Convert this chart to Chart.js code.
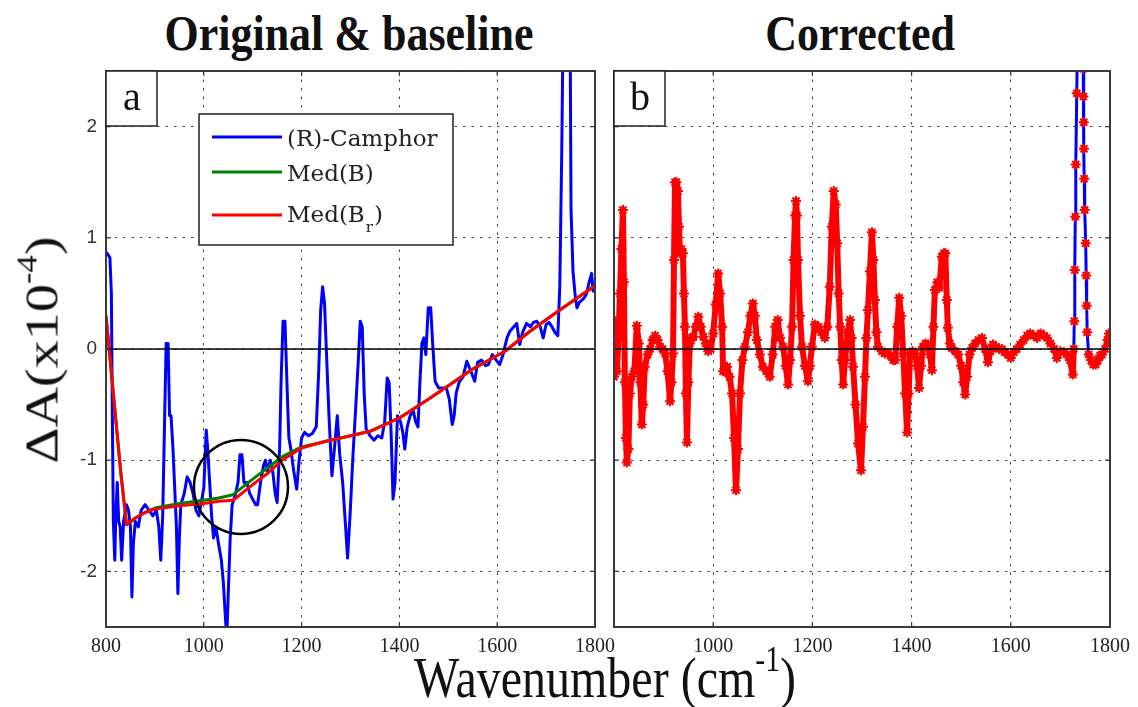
<!DOCTYPE html>
<html>
<head>
<meta charset="utf-8">
<script src="https://cdn.jsdelivr.net/npm/chart.js@4.4.1/dist/chart.umd.min.js"></script>
<style>
body { margin: 0; width: 1138px; height: 707px; background: #fff; position: relative; overflow: hidden; }
canvas { position: absolute; }
#left { left: 50px; top: 61px; }
#right { left: 604px; top: 61px; }
.title { position: absolute; top: 8px; font: bold 44px 'Liberation Serif', serif; color: #111;
         white-space: nowrap; transform: translateX(-50%) scaleY(1.15); }
#xtitle { position: absolute; left: 605px; top: 650px; font: 48px 'Liberation Serif', serif; color: #111;
          white-space: nowrap; transform: translateX(-50%) scaleY(1.18); }
#ytitle { position: absolute; left: 42px; top: 350px; font: 46px 'Liberation Serif', serif; color: #111;
          white-space: nowrap; transform: translate(-50%, -50%) rotate(-90deg) scaleX(1.22); }
sup { font-size: 62%; vertical-align: 0.75em; line-height: 0; }
</style>
</head>
<body>
<div class="title" style="left:349px">Original &amp; baseline</div>
<div class="title" style="left:860px">Corrected</div>
<canvas id="left" width="570" height="606"></canvas>
<canvas id="right" width="531" height="606"></canvas>
<div id="xtitle">Wavenumber (cm<sup>-1</sup>)</div>
<div id="ytitle">&Delta;A(x10<sup>-4</sup>)</div>
<script>
// axis ticks
const xTicks = [800, 1000, 1200, 1400, 1600, 1800];
const yTicks = [-2, -1, 0, 1, 2];

// (R)-Camphor raw spectrum (panel a)
const rawWave = [
  800, 804, 808, 811, 813, 815, 818, 820, 823, 826,
  829, 832, 836, 842, 846, 850, 853, 856, 860, 866,
  872, 880, 888, 896, 903, 908, 912, 916, 920, 923,
  927, 930, 933, 937, 940, 944, 947, 950, 953, 960,
  966, 972, 978, 984, 990, 996, 1000, 1005, 1008, 1012,
  1016, 1020, 1025, 1030, 1036, 1040, 1044, 1047, 1050, 1054,
  1058, 1064, 1070, 1074, 1078, 1082, 1088, 1094, 1100, 1106,
  1110, 1116, 1122, 1126, 1130, 1136, 1141, 1146, 1150, 1155,
  1158, 1162, 1166, 1170, 1174, 1178, 1184, 1190, 1195, 1200,
  1206, 1214, 1222, 1230, 1235, 1239, 1243, 1247, 1251, 1256,
  1262, 1267, 1273, 1278, 1284, 1290, 1294, 1299, 1305, 1311,
  1316, 1320, 1324, 1328, 1332, 1340, 1348, 1356, 1364, 1370,
  1375, 1379, 1383, 1387, 1391, 1396, 1402, 1407, 1411, 1416,
  1422, 1428, 1433, 1438, 1442, 1446, 1450, 1454, 1459, 1464,
  1468, 1473, 1480, 1488, 1496, 1502, 1508, 1512, 1516, 1522,
  1530, 1538, 1546, 1554, 1560, 1568, 1576, 1582, 1590, 1598,
  1605, 1612, 1620, 1626, 1634, 1640, 1646, 1652, 1660, 1668,
  1674, 1681, 1688, 1694, 1700, 1706, 1712, 1718, 1724, 1728,
  1732, 1735, 1742, 1749, 1751, 1755, 1759, 1763, 1768, 1773,
  1778, 1783, 1788, 1793, 1796, 1800
];
const rawSignal = [
  0.87, 0.85, 0.82, 0.5, -0.6, -1.55, -1.9, -1.5, -1.2, -1.55,
  -1.6, -1.9, -1.55, -1.4, -1.45, -1.6, -2.23, -1.75, -1.55, -1.6,
  -1.45, -1.4, -1.45, -1.5, -1.45, -1.6, -1.9, -1.5, -0.6, 0.05,
  0.05, -0.6, -0.6, -0.9, -1.2, -1.6, -2.2, -1.7, -1.4, -1.3,
  -1.15, -1.2, -1.3, -1.45, -1.5, -1.35, -1.25, -0.73, -0.9, -1.2,
  -1.5, -1.7, -1.6, -1.75, -1.9, -2.1, -2.4, -2.6, -2.2, -1.7,
  -1.4, -1.32, -1.2, -0.95, -0.95, -1.2, -1.2, -1.3, -1.35, -1.4,
  -1.4, -1.2, -1.05, -1.0, -1.1, -1.0, -1.1, -1.3, -1.38, -0.9,
  -0.3, 0.25, 0.25, -0.3, -0.8, -0.9, -1.1, -1.26, -1.0, -0.8,
  -0.75, -0.78, -0.76, -0.7, -0.2, 0.35, 0.56, 0.4, -0.05, -0.6,
  -1.14, -0.9, -0.6, -0.95, -1.2, -1.6, -1.88, -1.5, -0.96, -0.5,
  -0.1, 0.25, 0.2, -0.4, -0.72, -0.78, -0.82, -0.78, -0.8, -0.65,
  -0.26, -0.3, -0.75, -1.35, -1.2, -0.6, -0.65, -0.75, -0.9, -0.7,
  -0.6, -0.55, -0.65, -0.7, -0.3, 0.05, 0.1, -0.05, 0.37, 0.37,
  0.05, -0.29, -0.35, -0.35, -0.35, -0.45, -0.68, -0.6, -0.4, -0.3,
  -0.25, -0.11, -0.2, -0.29, -0.12, -0.1, -0.15, -0.14, -0.05, -0.1,
  -0.14, -0.05, 0.1, 0.16, 0.2, 0.23, 0.04, 0.15, 0.23, 0.2,
  0.24, 0.25, 0.2, 0.1, 0.22, 0.24, 0.2, 0.15, 0.12, 0.56,
  1.77, 3.0, 3.5, 3.0, 1.25, 0.7, 0.5, 0.37, 0.42, 0.44,
  0.46, 0.5, 0.6, 0.68, 0.52, 0.55
];

// baselines (panel a)
const baseWave = [800, 815, 830, 842, 860, 880, 900, 950, 1000, 1030, 1060, 1100, 1130,
                  1160, 1200, 1250, 1300, 1340, 1400, 1460, 1500, 1550, 1616, 1667, 1728, 1800];
const medB  = [0.3, -0.4, -1.1, -1.58, -1.52, -1.47, -1.43, -1.39, -1.36, -1.34, -1.31, -1.17, -1.07,
               -0.97, -0.88, -0.83, -0.78, -0.74, -0.62, -0.45, -0.33, -0.18, -0.02, 0.16, 0.35, 0.57];
const medBr = [0.3, -0.4, -1.1, -1.58, -1.52, -1.47, -1.44, -1.41, -1.39, -1.37, -1.36, -1.22, -1.12,
               -1.0, -0.89, -0.83, -0.78, -0.74, -0.62, -0.45, -0.33, -0.18, -0.02, 0.16, 0.35, 0.57];

// corrected spectrum (panel b)
const corrWave = [
  800, 803, 806, 809, 812, 815, 818, 820, 822, 824,
  826, 829, 832, 836, 841, 846, 850, 853, 856, 859,
  862, 868, 873, 878, 883, 888, 893, 898, 903, 908,
  913, 916, 919, 921, 923, 926, 929, 931, 933, 936,
  939, 941, 943, 945, 947, 950, 953, 957, 960, 965,
  970, 975, 980, 985, 990, 995, 1000, 1005, 1010, 1014,
  1018, 1020, 1024, 1028, 1033, 1038, 1042, 1046, 1050, 1054,
  1059, 1064, 1070, 1075, 1080, 1084, 1088, 1094, 1100, 1107,
  1114, 1120, 1125, 1130, 1135, 1141, 1146, 1151, 1155, 1159,
  1162, 1165, 1167, 1169, 1171, 1175, 1179, 1185, 1191, 1195,
  1199, 1205, 1212, 1218, 1225, 1230, 1235, 1239, 1243, 1247,
  1250, 1253, 1256, 1259, 1262, 1266, 1271, 1276, 1279, 1282,
  1287, 1292, 1298, 1302, 1306, 1309, 1312, 1316, 1320, 1323,
  1326, 1329, 1332, 1340, 1346, 1352, 1358, 1363, 1367, 1371,
  1375, 1379, 1383, 1387, 1391, 1394, 1397, 1402, 1407, 1411,
  1415, 1419, 1423, 1428, 1433, 1437, 1441, 1444, 1447, 1452,
  1456, 1461, 1465, 1468, 1471, 1473, 1477, 1481, 1488, 1494,
  1500, 1504, 1508, 1512, 1517, 1522, 1528, 1535, 1542, 1548,
  1554, 1559, 1564, 1570, 1576, 1582, 1588, 1594, 1600, 1606,
  1612, 1619, 1626, 1633, 1639, 1646, 1653, 1660, 1667, 1673,
  1680, 1687, 1693, 1700, 1707, 1713, 1719, 1725, 1727, 1728,
  1729, 1730, 1731, 1733, 1735, 1742, 1745, 1746, 1746.5, 1747,
  1747.5, 1748, 1749, 1751, 1752, 1753, 1754, 1757, 1762, 1766,
  1771, 1776, 1780, 1784, 1790, 1795, 1798, 1800
];
const corrSignal = [
  -0.25, 0.25, -0.2, 0.1, 0.5, 0.9, 1.25, 0.6, -0.3, -0.8,
  -1.02, -0.9, -0.4, -0.25, -0.2, 0.21, 0.05, -0.3, -0.68, -0.5,
  -0.16, -0.05, 0.0, 0.08, 0.12, 0.08, 0.02, 0.0, -0.04, -0.2,
  -0.47, -0.3, -0.04, 0.8, 1.5, 1.5, 1.42, 1.1, 0.86, 0.9,
  0.86, 0.5, 0.2, -0.4, -0.84, -0.3, 0.05, 0.1, 0.11, 0.2,
  0.29, 0.2, 0.11, 0.05, -0.02, 0.0, 0.14, 0.4, 0.68, 0.5,
  0.2, -0.2, -0.2, -0.16, -0.25, -0.4, -0.8, -1.27, -0.9, -0.4,
  -0.1, 0.02, 0.15, 0.3, 0.41, 0.3, 0.08, -0.05, -0.16, -0.2,
  -0.25, -0.05, 0.2, 0.26, 0.1, 0.02, -0.15, -0.32, -0.1, 0.2,
  0.8, 1.2, 1.33, 1.2, 0.8, 0.3, 0.02, -0.15, -0.29, -0.15,
  0.02, 0.22, 0.2, 0.15, 0.1, 0.2, 0.56, 1.1, 1.42, 1.3,
  0.95, 0.5, 0.2, -0.1, -0.32, -0.1, 0.15, 0.26, 0.1, -0.16,
  -0.5, -0.85, -1.09, -0.7, -0.25, 0.1, 0.35, 0.7, 1.05, 0.8,
  0.44, 0.15, 0.02, -0.02, -0.04, -0.04, -0.06, -0.1, -0.1, 0.2,
  0.46, 0.3, -0.04, -0.4, -0.75, -0.4, -0.04, -0.02, -0.04, -0.15,
  -0.35, -0.15, 0.02, 0.05, 0.04, -0.05, -0.19, 0.2, 0.53, 0.6,
  0.55, 0.83, 0.86, 0.86, 0.44, 0.19, 0.05, 0.01, -0.02, -0.05,
  -0.15, -0.3, -0.41, -0.25, -0.05, 0.01, 0.05, 0.08, 0.1, 0.0,
  -0.12, -0.02, 0.04, 0.02, 0.0, 0.0, -0.03, -0.05, -0.08, -0.03,
  0.0, 0.04, 0.08, 0.12, 0.14, 0.12, 0.1, 0.14, 0.12, 0.1,
  0.05, 0.0, -0.08, -0.02, -0.03, -0.05, -0.1, -0.23, 0.0, 0.25,
  0.71, 1.19, 1.66, 2.3, 3.0, 3.3, 2.9, 2.52, 2.27, 2.04,
  1.8, 1.53, 1.25, 0.95, 0.66, 0.39, 0.15, -0.05, -0.1, -0.14,
  -0.14, -0.1, -0.06, -0.05, 0.0, 0.08, 0.14, 0.05
];

// circled region in panel a
const circleMark = { wave: 1076, value: -1.24 };
// steep band where only the star markers are drawn
const spikeBand = [1727, 1757];

const toPoints = (xs, ys) => xs.map((v, i) => ({ x: v, y: ys[i] }));

const BLUE = '#0000ff', GREEN = '#008000', RED = '#ff0000';

// keep the plot area where the layout padding puts it
function noPad(s) {
  s.paddingTop = 0; s.paddingBottom = 0; s.paddingLeft = 0; s.paddingRight = 0;
}

function scales(showY, hideFirst) {
  return {
    x: {
      type: 'linear', min: 800, max: 1800,
      afterBuildTicks: s => { s.ticks = xTicks.map(v => ({ value: v })); },
      afterFit: s => { s.height = 40; noPad(s); },
      grid: { color: '#444', lineWidth: 1, drawTicks: false },
      border: { display: false, dash: [2.5, 6] },
      ticks: {
        padding: 8, color: '#222', font: { family: "'Liberation Serif', serif", size: 20 },
        callback: v => (hideFirst && v === 800) ? '' : String(v)
      }
    },
    y: {
      type: 'linear', min: -2.5, max: 2.5,
      afterBuildTicks: s => { s.ticks = yTicks.map(v => ({ value: v })); },
      afterFit: s => { s.width = showY ? 56 : 0; noPad(s); },
      grid: { color: '#444', lineWidth: 1, drawTicks: false },
      border: { display: false, dash: [2.5, 6] },
      ticks: {
        display: showY, padding: 9, color: '#333',
        font: { family: "'Liberation Sans', sans-serif", size: 19 }
      }
    }
  };
}

// frame, zero line, inward ticks, panel letter, legend and circle
const panelDecor = {
  id: 'panelDecor',
  afterDatasetsDraw(chart, args, opts) {
    const { ctx, chartArea: a, scales: { x, y } } = chart;
    ctx.save();
    const y0 = y.getPixelForValue(0);
    ctx.strokeStyle = '#000';
    ctx.lineWidth = 1.5;
    ctx.beginPath();
    ctx.moveTo(a.left, y0);
    ctx.lineTo(a.right, y0);
    ctx.stroke();

    ctx.strokeStyle = '#3a3a3a';
    ctx.lineWidth = 2;
    ctx.strokeRect(a.left, a.top, a.right - a.left, a.bottom - a.top);
    ctx.lineWidth = 1.2;
    ctx.beginPath();
    xTicks.forEach(v => {
      const px = x.getPixelForValue(v);
      ctx.moveTo(px, a.bottom); ctx.lineTo(px, a.bottom - 5);
      ctx.moveTo(px, a.top); ctx.lineTo(px, a.top + 5);
    });
    yTicks.forEach(v => {
      const py = y.getPixelForValue(v);
      ctx.moveTo(a.left, py); ctx.lineTo(a.left + 5, py);
      ctx.moveTo(a.right, py); ctx.lineTo(a.right - 5, py);
    });
    ctx.stroke();

    // panel letter
    ctx.fillStyle = '#fff';
    ctx.fillRect(a.left, a.top, 51, 55);
    ctx.strokeStyle = '#222';
    ctx.lineWidth = 1.5;
    ctx.strokeRect(a.left, a.top, 51, 55);
    ctx.fillStyle = '#111';
    ctx.font = "40px 'Liberation Serif', serif";
    ctx.textAlign = 'center';
    ctx.textBaseline = 'middle';
    ctx.fillText(opts.letter, a.left + 26, a.top + 28);

    if (opts.circle) {
      ctx.strokeStyle = '#000';
      ctx.lineWidth = 2.5;
      ctx.beginPath();
      ctx.arc(x.getPixelForValue(circleMark.wave), y.getPixelForValue(circleMark.value), 47, 0, Math.PI * 2);
      ctx.stroke();
    }

    if (opts.legend) {
      const bx = a.left + 93, by = a.top + 43;
      ctx.fillStyle = '#fff';
      ctx.fillRect(bx, by, 254, 131);
      ctx.strokeStyle = '#222';
      ctx.lineWidth = 1.5;
      ctx.strokeRect(bx, by, 254, 131);
      const rows = [66, 101, 144];
      chart.data.datasets.forEach((ds, i) => {
        const ly = a.top + rows[i];
        ctx.strokeStyle = ds.borderColor;
        ctx.lineWidth = 3;
        ctx.beginPath();
        ctx.moveTo(a.left + 106, ly);
        ctx.lineTo(a.left + 176, ly);
        ctx.stroke();
        ctx.fillStyle = '#222';
        ctx.textAlign = 'left';
        ctx.textBaseline = 'middle';
        ctx.font = "23px 'DejaVu Serif', serif";
        const [main, sub] = ds.label.split('_');
        let tx = a.left + 181;
        if (sub) {
          ctx.fillText(main, tx, ly + 1);
          tx += ctx.measureText(main).width;
          ctx.font = "15px 'DejaVu Serif', serif";
          ctx.fillText(sub.replace(')', ''), tx + 1, ly + 13);
          tx += ctx.measureText('r').width + 2;
          ctx.font = "23px 'DejaVu Serif', serif";
          ctx.fillText(')', tx, ly + 1);
        } else {
          ctx.fillText(main, tx, ly + 3);
        }
      });
    }
    ctx.restore();
  }
};

const common = {
  responsive: false,
  animation: false,
  events: [],
};

new Chart(document.getElementById('left'), {
  type: 'line',
  data: {
    datasets: [
      { label: '(R)-Camphor', data: toPoints(rawWave, rawSignal), borderColor: BLUE, borderWidth: 3,
        borderJoinStyle: 'round', pointRadius: 0, order: 3 },
      { label: 'Med(B)', data: toPoints(baseWave, medB), borderColor: GREEN, borderWidth: 3,
        borderJoinStyle: 'round', pointRadius: 0, order: 2 },
      { label: 'Med(B_r)', data: toPoints(baseWave, medBr), borderColor: RED, borderWidth: 3,
        borderJoinStyle: 'round', pointRadius: 0, order: 1 }
    ]
  },
  options: Object.assign({}, common, {
    layout: { padding: { left: 0, right: 25, top: 10, bottom: 0 } },
    scales: scales(true, false),
    plugins: { legend: { display: false }, tooltip: { enabled: false },
               panelDecor: { letter: 'a', legend: true, circle: true } }
  }),
  plugins: [panelDecor]
});

new Chart(document.getElementById('right'), {
  type: 'line',
  data: {
    datasets: [
      { label: 'Corrected Med(B)', data: toPoints(corrWave, corrSignal), borderColor: BLUE, borderWidth: 3,
        borderJoinStyle: 'round', pointRadius: 0, order: 3 },
      { label: 'Med(B) points', data: toPoints(corrWave, corrSignal), showLine: false,
        pointStyle: 'circle', pointRadius: 3, pointBackgroundColor: GREEN, pointBorderColor: GREEN, order: 2 },
      { label: 'Corrected Med(B_r)', data: toPoints(corrWave, corrSignal), borderColor: RED, borderWidth: 6,
        borderJoinStyle: 'round', borderCapStyle: 'round',
        segment: { borderColor: c => (c.p0.parsed.x >= spikeBand[0] && c.p1.parsed.x <= spikeBand[1]) ? 'rgba(255,0,0,0)' : RED },
        pointStyle: 'star', pointRadius: 5, pointBorderWidth: 2,
        pointBorderColor: RED, pointBackgroundColor: RED, order: 1 }
    ]
  },
  options: Object.assign({}, common, {
    layout: { padding: { left: 10, right: 25, top: 10, bottom: 0 } },
    scales: scales(false, true),
    plugins: { legend: { display: false }, tooltip: { enabled: false },
               panelDecor: { letter: 'b' } }
  }),
  plugins: [panelDecor]
});
</script>
</body>
</html>
